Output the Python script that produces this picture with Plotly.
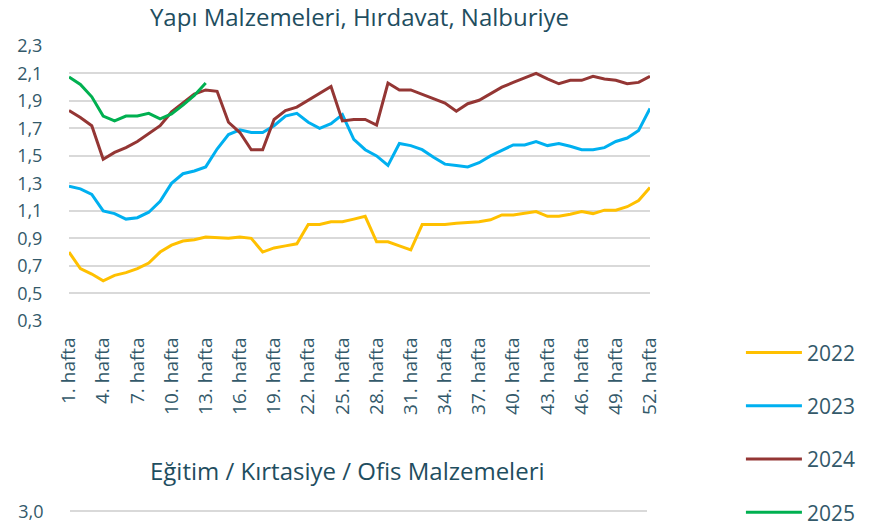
import plotly.graph_objects as go

# weekly index values
weeks = [f"{i}. hafta" for i in range(1, 53)]

y2022 = [0.80, 0.68, 0.64, 0.59, 0.63, 0.65, 0.68, 0.72, 0.80, 0.85, 0.88, 0.89, 0.91,
         0.905, 0.90, 0.91, 0.90, 0.80, 0.83, 0.845, 0.86, 1.00, 1.00, 1.02, 1.02, 1.04,
         1.06, 0.875, 0.875, 0.845, 0.815, 1.00, 1.00, 1.00, 1.01, 1.015, 1.02, 1.035, 1.07,
         1.07, 1.085, 1.095, 1.06, 1.06, 1.075, 1.095, 1.08, 1.105, 1.105, 1.13, 1.175, 1.27]
y2023 = [1.28, 1.26, 1.22, 1.10, 1.08, 1.04, 1.05, 1.09, 1.17, 1.30, 1.37, 1.39, 1.42,
         1.55, 1.655, 1.69, 1.67, 1.67, 1.72, 1.79, 1.81, 1.745, 1.70, 1.735, 1.80, 1.62,
         1.545, 1.50, 1.43, 1.59, 1.575, 1.545, 1.49, 1.44, 1.43, 1.42, 1.45, 1.50, 1.54,
         1.58, 1.58, 1.605, 1.575, 1.59, 1.57, 1.545, 1.545, 1.56, 1.605, 1.63, 1.685, 1.845]
y2024 = [1.83, 1.78, 1.72, 1.475, 1.525, 1.56, 1.605, 1.66, 1.72, 1.82, 1.885, 1.95, 1.98,
         1.97, 1.745, 1.67, 1.545, 1.545, 1.765, 1.83, 1.855, 1.905, 1.95, 2.005, 1.755, 1.765,
         1.765, 1.725, 2.03, 1.98, 1.98, 1.95, 1.92, 1.885, 1.825, 1.88, 1.905, 1.95, 2.00,
         2.035, 2.065, 2.10, 2.06, 2.025, 2.05, 2.05, 2.08, 2.06, 2.05, 2.025, 2.035, 2.08]
y2025 = [2.075, 2.02, 1.93, 1.79, 1.755, 1.79, 1.79, 1.81, 1.77, 1.805, 1.87, 1.94, 2.03]

series = {"2022": y2022, "2023": y2023, "2024": y2024, "2025": y2025}
colors = {"2022": "#FFC000", "2023": "#00B0F0", "2024": "#943634", "2025": "#00B050"}

title_main = "Yapı Malzemeleri, Hırdavat, Nalburiye"
title_next = "Eğitim / Kırtasiye / Ofis Malzemeleri"

FONT = "Open Sans"
TEXT = "#33596a"
TITLE = "#1f4e5f"
GRID = "#d9d9d9"

fig = go.Figure()

for year, vals in series.items():
    fig.add_trace(go.Scatter(
        x=weeks[:len(vals)],
        y=vals,
        name=year,
        legendgroup=year,
        mode="lines",
        line=dict(color=colors[year], width=3),
    ))

# top of the next (cut off) chart
fig.add_trace(go.Scatter(x=[], y=[], xaxis="x2", yaxis="y2", showlegend=False))

fig.update_layout(
    width=885,
    height=528,
    margin=dict(l=69, r=235, t=46, b=0, autoexpand=False),
    plot_bgcolor="white",
    paper_bgcolor="white",
    separators=",.",
    font=dict(family=FONT, color=TEXT),
    title=dict(text=title_main, x=0.5, xref="paper", xanchor="center",
               y=0.967, yanchor="middle", font=dict(size=24, color=TITLE)),
    xaxis=dict(
        type="category",
        categoryorder="array",
        categoryarray=weeks,
        tickmode="linear", tick0=0, dtick=3,
        tickangle=-90,
        tickfont=dict(size=19, color=TEXT),
        ticks="outside", ticklen=8, tickcolor="rgba(0,0,0,0)",
        showgrid=False,
        showline=False,
        anchor="y",
    ),
    yaxis=dict(
        domain=[0.43, 1.0],
        range=[0.3, 2.3],
        dtick=0.2, tick0=0.3,
        tickformat=".1f",
        tickfont=dict(size=18, color=TEXT),
        ticks="outside", ticklen=22, tickcolor="rgba(0,0,0,0)",
        gridcolor=GRID, gridwidth=1.5,
        zeroline=False,
        showline=False,
    ),
    xaxis2=dict(
        domain=[0.002, 0.995],
        anchor="y2",
        showticklabels=False, showgrid=False, showline=False, zeroline=False,
    ),
    yaxis2=dict(
        domain=[0.0, 0.0415],
        range=[2.8, 3.04],
        dtick=0.5, tick0=0,
        tickformat=".1f",
        tickfont=dict(size=18, color=TEXT),
        ticks="outside", ticklen=22, tickcolor="rgba(0,0,0,0)",
        gridcolor=GRID, gridwidth=1.5,
        zeroline=False, showline=False,
        anchor="x2",
    ),
    legend=dict(
        x=1.1565, xanchor="left",
        y=0.406, yanchor="top",
        traceorder="grouped",
        tracegroupgap=23,
        itemwidth=56,
        font=dict(size=21, color=TEXT),
        bgcolor="rgba(0,0,0,0)",
    ),
    annotations=[dict(
        text=title_next, xref="paper", yref="paper",
        x=0.48, y=(528 - 470) / 482, xanchor="center", yanchor="middle",
        showarrow=False, font=dict(size=24, color=TITLE),
    )],
)

# drop the default page margin so the figure fills the window exactly
fig.write_html("out.html", config={"displayModeBar": False},
               post_script="document.body.style.margin = '0';")
